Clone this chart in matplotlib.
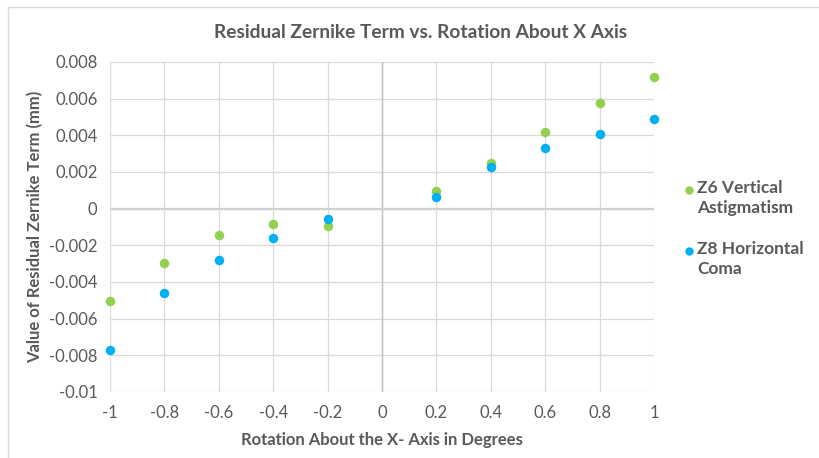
import matplotlib
matplotlib.use('Agg')
import matplotlib.pyplot as plt
from matplotlib.lines import Line2D

# data
rotation = [-1, -0.8, -0.6, -0.4, -0.2, 0.2, 0.4, 0.6, 0.8, 1]
z6_astig = [-0.00503, -0.00294, -0.00144, -0.00084, -0.00095,
            0.00098, 0.00248, 0.00418, 0.00578, 0.00718]
z8_coma = [-0.00769, -0.00458, -0.00281, -0.00160, -0.00058,
           0.00062, 0.00230, 0.00332, 0.00408, 0.00487]
series_names = ['Z6 Vertical\nAstigmatism', 'Z8 Horizontal\nComa']
series_colors = ['#92D050', '#00B0F0']

x_ticks = [-1, -0.8, -0.6, -0.4, -0.2, 0, 0.2, 0.4, 0.6, 0.8, 1]
x_labels = ['-1', '-0.8', '-0.6', '-0.4', '-0.2', '0', '0.2', '0.4', '0.6', '0.8', '1']
y_ticks = [0.008, 0.006, 0.004, 0.002, 0, -0.002, -0.004, -0.006, -0.008, -0.01]
y_labels = ['0.008', '0.006', '0.004', '0.002', '0', '-0.002', '-0.004', '-0.006', '-0.008', '-0.01']

plt.rcParams['font.family'] = ['Lato', 'DejaVu Sans']
txt = '#595959'

W, H = 820, 458
fig = plt.figure(figsize=(8.2, 4.58), dpi=100)
ax = fig.add_axes([110 / W, 1 - 392 / H, 544 / W, 330 / H])

for vals, col in zip([z6_astig, z8_coma], series_colors):
    ax.scatter(rotation, vals, s=34, color=col, zorder=3, clip_on=False)

ax.set_xlim(-1, 1)
ax.set_ylim(-0.01, 0.008)
ax.set_xticks(x_ticks)
ax.set_xticklabels(x_labels)
ax.set_yticks(y_ticks)
ax.set_yticklabels(y_labels)
ax.tick_params(length=0, labelsize=12, colors=txt, pad=9)
ax.grid(True, color='#d9d9d9', linewidth=0.9)
ax.set_axisbelow(True)
for s in ax.spines.values():
    s.set_visible(False)
ax.axvline(0, color='#bfbfbf', linewidth=1.0, zorder=1)
ax.axhline(0, color='#d0d0d0', linewidth=1.6, zorder=1)

fig.text(421 / W, 1 - 32 / H, 'Residual Zernike Term vs. Rotation About X Axis',
         fontsize=13.8, fontweight='bold', color=txt, ha='center', va='center')
ax.set_xlabel('Rotation About the X- Axis in Degrees', fontsize=12,
              fontweight='bold', color=txt, labelpad=8)
ax.set_ylabel('Value of Residual Zernike Term (mm)', fontsize=12,
              fontweight='bold', color=txt, labelpad=4)

# legend, drawn by hand so the marker sits on the first text line
legend_y = [190, 251]
for name, col, yy in zip(series_names, series_colors, legend_y):
    fig.add_artist(Line2D([689 / W], [1 - yy / H], marker='o', markersize=5,
                          color=col, linestyle='none', transform=fig.transFigure))
    fig.text(697 / W, 1 - (yy - 10) / H, name, fontsize=12.5, fontweight='bold',
             color=txt, ha='left', va='top', linespacing=1.3)

# chart border (top and left edges visible in the crop)
fig.add_artist(Line2D([8 / W, 8 / W, 1.0], [0.0, 1 - 7 / H, 1 - 7 / H],
                      color='#d9d9d9', linewidth=1.0, transform=fig.transFigure))

fig.savefig('out.png', dpi=100)
